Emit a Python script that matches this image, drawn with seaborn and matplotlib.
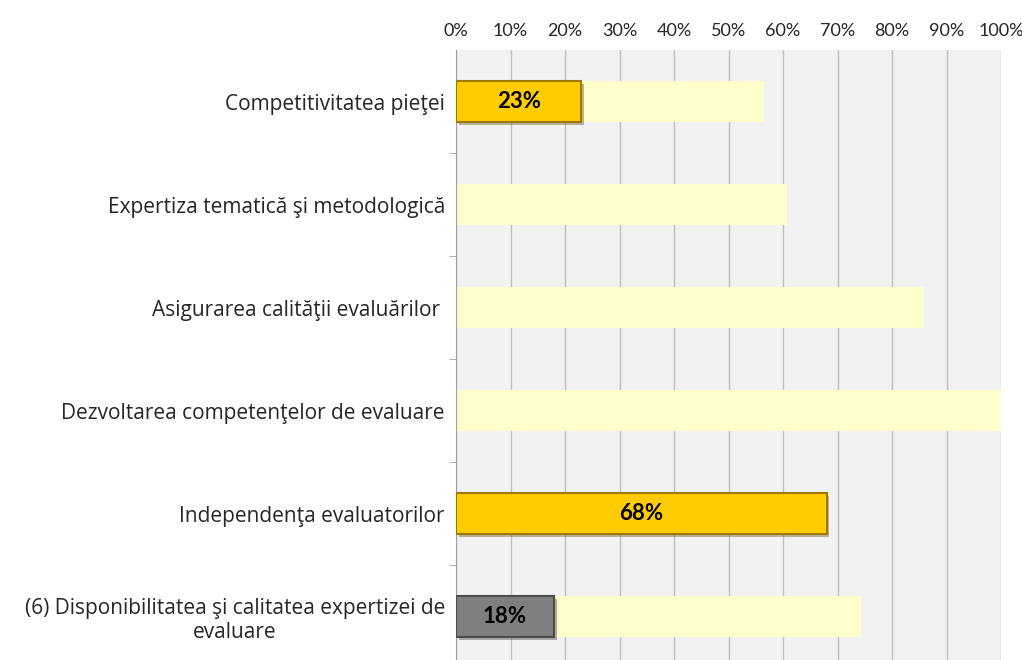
from matplotlib import pyplot as plt
import matplotlib.patheffects as pe
from matplotlib.ticker import FixedLocator, PercentFormatter
import pandas as pd
import seaborn as sns

# date
categorii = ["Competitivitatea pieţei",
             "Expertiza tematică şi metodologică",
             "Asigurarea calităţii evaluărilor ",
             "Dezvoltarea competenţelor de evaluare",
             "Independenţa evaluatorilor",
             "(6) Disponibilitatea şi calitatea expertizei de\nevaluare"]
fundal = [56.5, 60.7, 85.9, 100.0, 0.0, 74.4]
valori = [23, 0, 0, 0, 68, 18]
culori = ["#FFCC00", "#FFCC00", "#FFCC00", "#FFCC00", "#FFCC00", "#7F7F7F"]
margini = ["#9C7A00", "#9C7A00", "#9C7A00", "#9C7A00", "#9C7A00", "#4D4D4D"]
etichete = ["23%", "", "", "", "68%", "18%"]

df = pd.DataFrame({"cat": categorii, "fundal": fundal, "val": valori})

sns.set_style("white")
plt.rcParams["font.family"] = ["Open Sans", "DejaVu Sans"]

fig = plt.figure(figsize=(10.22, 6.6), dpi=100)
ax = fig.add_axes([456 / 1022, 0.0, 545 / 1022, 610 / 660])
ax.set_facecolor("#F2F2F2")

sns.barplot(ax=ax, data=df, x="fundal", y="cat", orient="h",
            color="#FFFFCC", width=0.4, saturation=1, zorder=2)
sns.barplot(ax=ax, data=df, x="val", y="cat", orient="h", hue="cat",
            palette=culori, legend=False, width=0.4, saturation=1, zorder=3)

n = len(categorii)
for p in ax.patches[:n]:
    p.set_linewidth(0)
for p in ax.patches[n:]:
    i = int(round(p.get_y() + p.get_height() / 2))
    if p.get_width() <= 0:
        p.set_linewidth(0)
        continue
    p.set_edgecolor(margini[i])
    p.set_linewidth(1.5)
    p.set_path_effects([pe.SimplePatchShadow(offset=(2, -2), alpha=0.35),
                        pe.Normal()])
    if etichete[i]:
        ax.text(p.get_width() / 2, i, etichete[i], ha="center", va="center",
                fontsize=16, fontweight="bold", family="Lato", color="black",
                zorder=5)

ax.set_xlim(0, 100)
ax.set_ylim(5.42, -0.5)
ax.xaxis.tick_top()
ax.xaxis.set_major_locator(FixedLocator(range(0, 101, 10)))
ax.xaxis.set_major_formatter(PercentFormatter(decimals=0))
ax.tick_params(axis="x", length=0, pad=8, labelsize=13)
for t in ax.get_xticklabels():
    t.set_family("Lato")
ax.grid(axis="x", color="#BFBFBF", linewidth=1, zorder=1)
ax.set_axisbelow(True)

ax.yaxis.set_minor_locator(FixedLocator([0.5, 1.5, 2.5, 3.5, 4.5]))
ax.tick_params(axis="y", which="major", length=0, pad=8, labelsize=15)
ax.tick_params(axis="y", which="minor", length=5, color="#A0A0A0",
               direction="out", left=True)
for t in ax.get_yticklabels():
    t.set_multialignment("center")
ax.set_xlabel("")
ax.set_ylabel("")

for s in ["top", "right", "bottom"]:
    ax.spines[s].set_visible(False)
ax.spines["left"].set_color("#A0A0A0")

fig.savefig("out.png", dpi=100)
